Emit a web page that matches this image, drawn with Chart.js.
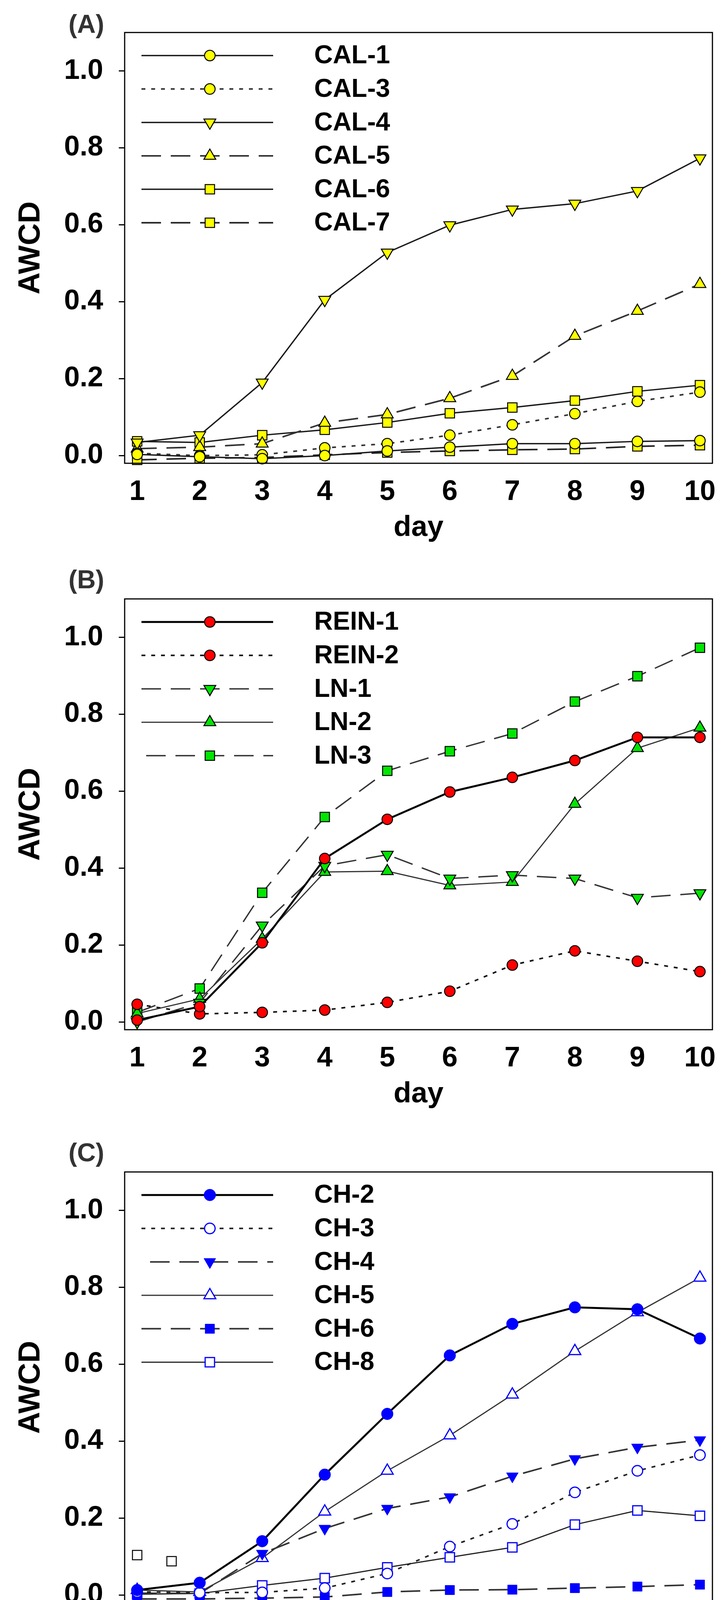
<!DOCTYPE html>
<html>
<head>
<meta charset="utf-8">
<title>AWCD by day</title>
<script src="https://cdn.jsdelivr.net/npm/chart.js@4.4.1/dist/chart.umd.min.js"></script>
<style>
  html, body { margin: 0; padding: 0; background: #fff; }
  body { width: 1863px; height: 4374px; position: relative; overflow: hidden; }
  canvas { position: absolute; left: 0; }
</style>
</head>
<body>
<canvas id="chartA" style="top:0px"></canvas>
<canvas id="chartB" style="top:1450px"></canvas>
<canvas id="chartC" style="top:2917px"></canvas>
<script>
// x = day, y = AWCD
const days = [1, 2, 3, 4, 5, 6, 7, 8, 9, 10];
const yTicks = [0, 0.2, 0.4, 0.6, 0.8, 1.0];

// panel A
const cal1 = [0.003, -0.003, -0.008, 0.000, 0.012, 0.022, 0.031, 0.031, 0.037, 0.039];
const cal3 = [0.006, 0.000, 0.002, 0.020, 0.031, 0.053, 0.080, 0.109, 0.141, 0.165];
const cal4 = [0.034, 0.053, 0.190, 0.405, 0.528, 0.599, 0.640, 0.655, 0.688, 0.773];
const cal5 = [0.018, 0.022, 0.031, 0.085, 0.107, 0.149, 0.207, 0.311, 0.376, 0.446];
const cal6 = [0.037, 0.034, 0.053, 0.067, 0.086, 0.110, 0.125, 0.143, 0.167, 0.183];
const cal7 = [-0.011, -0.007, -0.005, 0.002, 0.008, 0.012, 0.015, 0.017, 0.024, 0.027];

// panel B
const rein1 = [0.005, 0.040, 0.206, 0.425, 0.527, 0.598, 0.636, 0.680, 0.740, 0.740];
const rein2 = [0.046, 0.021, 0.025, 0.031, 0.051, 0.080, 0.148, 0.185, 0.158, 0.131];
const ln1 = [0.000, 0.050, 0.251, 0.406, 0.435, 0.373, 0.382, 0.373, 0.323, 0.335];
const ln2 = [0.022, 0.060, 0.216, 0.390, 0.392, 0.355, 0.364, 0.567, 0.712, 0.765];
const ln3 = [0.025, 0.087, 0.336, 0.533, 0.653, 0.704, 0.750, 0.833, 0.899, 0.973];

// panel C
const ch2 = [0.013, 0.032, 0.140, 0.313, 0.471, 0.623, 0.705, 0.748, 0.743, 0.667];
const ch3 = [0.008, 0.006, 0.007, 0.018, 0.056, 0.126, 0.185, 0.267, 0.323, 0.364];
const ch4 = [0.005, 0.004, 0.108, 0.173, 0.225, 0.255, 0.309, 0.354, 0.384, 0.403];
const ch5 = [0.013, 0.008, 0.096, 0.217, 0.323, 0.415, 0.521, 0.634, 0.735, 0.825];
const ch6 = [-0.010, -0.010, -0.008, -0.005, 0.008, 0.013, 0.014, 0.018, 0.022, 0.027];
const ch8 = [0.002, 0.004, 0.025, 0.044, 0.072, 0.098, 0.124, 0.183, 0.220, 0.206];
// two loose open squares near the top left of panel C
const strayX = [1.0, 1.55];
const strayY = [0.104, 0.088];

const FONT = '"Liberation Sans", Arial, sans-serif';
const DOTTED = [10, 15];
const DASHED = [50, 25];
const YELLOW = '#ffff00', RED = '#ff0000', GREEN = '#00e600', BLUE = '#0000ff';

function series(label, values, look) {
  return Object.assign({
    label: label,
    data: days.map((d, i) => ({ x: d, y: values[i] })),
    borderColor: '#1a1a1a',
    borderWidth: 4,
    borderDash: [],
    tension: 0,
    fill: false,
    clip: false,
    pointRadius: 13.5,
    pointRotation: 0,
    pointBorderColor: '#000',
    pointBorderWidth: 2.5,
    legendStart: 362
  }, look);
}

// legend drawn inside the plot box: line sample, marker, name
const innerLegend = {
  id: 'innerLegend',
  afterDraw(chart) {
    const ctx = chart.ctx;
    const top = chart.chartArea.top;
    let row = 0;
    chart.data.datasets.forEach(ds => {
      if (ds.inLegend === false) return;
      const y = top + 59 + row * 85.6;
      ctx.save();
      ctx.strokeStyle = ds.borderColor;
      ctx.lineWidth = ds.borderWidth;
      ctx.setLineDash(ds.borderDash);
      ctx.beginPath();
      ctx.moveTo(ds.legendStart, y);
      ctx.lineTo(699, y);
      ctx.stroke();
      ctx.setLineDash([]);
      ctx.fillStyle = ds.pointBackgroundColor;
      ctx.strokeStyle = ds.pointBorderColor;
      ctx.lineWidth = ds.pointBorderWidth;
      Chart.helpers.drawPoint(ctx, {
        pointStyle: ds.pointStyle,
        rotation: ds.pointRotation,
        radius: ds.pointRadius,
        borderWidth: ds.pointBorderWidth
      }, 537, y);
      ctx.fillStyle = '#000';
      ctx.font = 'bold 66px ' + FONT;
      ctx.textAlign = 'left';
      ctx.textBaseline = 'middle';
      ctx.fillText(ds.label, 804, y + 2);
      ctx.restore();
      row++;
    });
  }
};

// frame around the plot and the panel letter
const frame = {
  id: 'frame',
  afterDraw(chart, args, opts) {
    const a = chart.chartArea;
    const ctx = chart.ctx;
    ctx.save();
    ctx.strokeStyle = '#000';
    ctx.lineWidth = 3;
    ctx.strokeRect(a.left, a.top, a.right - a.left, a.bottom - a.top);
    ctx.fillStyle = '#333';
    ctx.font = 'bold 66px ' + FONT;
    ctx.textAlign = 'center';
    ctx.textBaseline = 'middle';
    ctx.fillText(opts.letter, 221, opts.letterY);
    ctx.restore();
  }
};

function makePanel(id, height, letter, letterY, datasets) {
  const canvas = document.getElementById(id);
  canvas.width = 1863;
  canvas.height = height;
  canvas.style.width = '1863px';
  canvas.style.height = height + 'px';
  return new Chart(canvas, {
    type: 'line',
    data: { datasets: datasets },
    plugins: [innerLegend, frame],
    options: {
      responsive: false,
      devicePixelRatio: 1,
      animation: false,
      events: [],
      layout: { padding: { top: 59, right: 38, left: 0, bottom: 0 } },
      plugins: {
        legend: { display: false },
        tooltip: { enabled: false },
        frame: { letter: letter, letterY: letterY }
      },
      scales: {
        x: {
          type: 'linear',
          min: 0.8,
          max: 10.2,
          afterBuildTicks: s => { s.ticks = days.map(v => ({ value: v })); },
          afterFit: s => { s.height = height - 59 - 1127; },
          grid: { display: false, drawTicks: false },
          border: { display: false },
          ticks: {
            color: '#000',
            padding: 31,
            font: { family: FONT, size: 72, weight: 'bold' }
          },
          title: {
            display: true,
            text: 'day',
            color: '#000',
            padding: { top: 0, bottom: 62 },
            font: { family: FONT, size: 74, weight: 'bold' }
          }
        },
        y: {
          min: -0.02,
          max: 1.1,
          afterBuildTicks: s => { s.ticks = yTicks.map(v => ({ value: v })); },
          afterFit: s => { s.width = 319; },
          grid: {
            display: true,
            drawOnChartArea: false,
            drawTicks: true,
            tickLength: 15,
            color: '#000',
            lineWidth: 3
          },
          border: { display: false },
          ticks: {
            color: '#000',
            padding: 40,
            callback: v => v.toFixed(1),
            font: { family: FONT, size: 72, weight: 'bold' }
          },
          title: {
            display: true,
            text: 'AWCD',
            color: '#000',
            padding: { top: 33, bottom: 0 },
            font: { family: FONT, size: 78, weight: 'bold' }
          }
        }
      }
    }
  });
}

const filledYellow = { pointBackgroundColor: YELLOW, pointBorderColor: '#000', pointBorderWidth: 2.5 };

makePanel('chartA', 1458, '(A)', 66, [
  series('CAL-1', cal1, Object.assign({ pointStyle: 'circle', borderWidth: 3.5 }, filledYellow)),
  series('CAL-3', cal3, Object.assign({ pointStyle: 'circle', borderDash: DOTTED, borderColor: '#333' }, filledYellow)),
  series('CAL-4', cal4, Object.assign({ pointStyle: 'triangle', pointRotation: 180, pointRadius: 17.5, borderWidth: 3.5 }, filledYellow)),
  series('CAL-5', cal5, Object.assign({ pointStyle: 'triangle', pointRadius: 17.5, borderDash: DASHED, borderColor: '#333' }, filledYellow)),
  series('CAL-6', cal6, Object.assign({ pointStyle: 'rect', pointRadius: 17, borderWidth: 3.5 }, filledYellow)),
  series('CAL-7', cal7, Object.assign({ pointStyle: 'rect', pointRadius: 17, borderDash: DASHED, borderColor: '#222' }, filledYellow))
]);

makePanel('chartB', 1458, '(B)', 38, [
  series('REIN-1', rein1, { pointStyle: 'circle', borderWidth: 5, borderColor: '#000', pointBackgroundColor: RED }),
  series('REIN-2', rein2, { pointStyle: 'circle', borderDash: DOTTED, borderColor: '#111', pointBackgroundColor: RED }),
  series('LN-1', ln1, { pointStyle: 'triangle', pointRotation: 180, pointRadius: 17.5, borderWidth: 3.5, borderDash: DASHED, borderColor: '#333', pointBackgroundColor: GREEN }),
  series('LN-2', ln2, { pointStyle: 'triangle', pointRadius: 17.5, borderWidth: 3, borderColor: '#333', pointBackgroundColor: GREEN }),
  series('LN-3', ln3, { pointStyle: 'rect', pointRadius: 17, borderWidth: 3.5, borderDash: DASHED, borderColor: '#333', pointBackgroundColor: GREEN, legendStart: 374 })
]);

makePanel('chartC', 1457, '(C)', 38, [
  series('CH-2', ch2, { pointStyle: 'circle', pointRadius: 15, borderWidth: 5, borderColor: '#000', pointBackgroundColor: BLUE, pointBorderColor: BLUE, pointBorderWidth: 1 }),
  series('CH-3', ch3, { pointStyle: 'circle', borderDash: DOTTED, borderColor: '#222', pointBackgroundColor: '#fff', pointBorderColor: BLUE, pointBorderWidth: 3 }),
  series('CH-4', ch4, { pointStyle: 'triangle', pointRotation: 180, pointRadius: 17.5, borderWidth: 4, borderDash: DASHED, borderColor: '#333', pointBackgroundColor: BLUE, pointBorderColor: BLUE, pointBorderWidth: 1, legendStart: 384 }),
  series('CH-5', ch5, { pointStyle: 'triangle', pointRadius: 17.5, borderWidth: 3, borderColor: '#333', pointBackgroundColor: '#fff', pointBorderColor: BLUE, pointBorderWidth: 3 }),
  series('CH-6', ch6, { pointStyle: 'rect', pointRadius: 17, borderWidth: 4, borderDash: DASHED, borderColor: '#333', pointBackgroundColor: BLUE, pointBorderColor: BLUE, pointBorderWidth: 1 }),
  series('CH-8', ch8, { pointStyle: 'rect', pointRadius: 17, borderWidth: 3, borderColor: '#222', pointBackgroundColor: '#fff', pointBorderColor: BLUE, pointBorderWidth: 3 }),
  {
    label: '',
    inLegend: false,
    data: strayX.map((x, i) => ({ x: x, y: strayY[i] })),
    showLine: false,
    clip: false,
    pointStyle: 'rect',
    pointRadius: 17,
    pointBackgroundColor: '#fff',
    pointBorderColor: '#000',
    pointBorderWidth: 2.5
  }
]);
</script>
</body>
</html>
